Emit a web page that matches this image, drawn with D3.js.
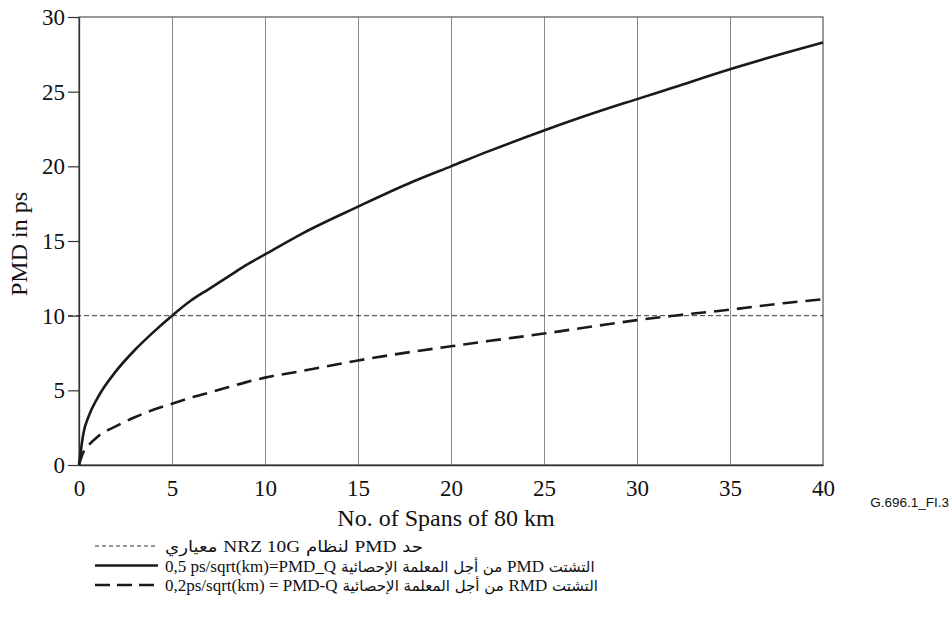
<!DOCTYPE html>
<html>
<head>
<meta charset="utf-8">
<script src="https://cdn.jsdelivr.net/npm/d3@7"></script>
<style>
  body { margin: 0; background: #fff; }
  text { font-family: "Liberation Serif", "Times New Roman", serif; fill: #111; }
  .lat { font-family: "Liberation Serif", "Times New Roman", serif; font-size: 17px; }
  .ar { font-family: "DejaVu Sans", sans-serif; font-size: 15px; }
  .ar.big { font-size: 16px; }
</style>
</head>
<body>
<svg id="chart" width="951" height="628"></svg>
<script>
// datos
const spans   = [0, 0.25, 0.5, 1, 2, 3, 4, 5, 6, 7, 8, 9, 10, 12, 15, 18, 20, 22, 25, 28, 30, 32, 35, 38, 40];
const pmdQ05  = [0, 2.2, 3.2, 4.5, 6.3, 7.7, 8.9, 10.0, 11.0, 11.8, 12.6, 13.4, 14.1, 15.5, 17.3, 19.0, 20.0, 21.0, 22.4, 23.7, 24.5, 25.3, 26.5, 27.6, 28.3];
const pmdQ02  = [0, 0.9, 1.3, 1.9, 2.6, 3.2, 3.7, 4.1, 4.5, 4.85, 5.2, 5.55, 5.85, 6.3, 7.0, 7.6, 7.95, 8.3, 8.8, 9.35, 9.7, 10.0, 10.4, 10.85, 11.1];
const limitPMD = 10;
const xTicks = [0, 5, 10, 15, 20, 25, 30, 35, 40];
const yTicks = [0, 5, 10, 15, 20, 25, 30];
// leyenda: parte latina (a la izquierda) y parte arabe (orden logico)
const legendLatin = ['', '0,5 ps/sqrt(km)=PMD_Q', '0,2ps/sqrt(km) = PMD-Q'];
const legendArabic = [
  [['ar big', 'حد '], ['lat', 'PMD'], ['ar big', ' لنظام '], ['lat', 'NRZ 10G'], ['ar big', ' معياري']],
  [['ar', 'التشتت '], ['lat', 'PMD'], ['ar', ' من أجل المعلمة الإحصائية']],
  [['ar', 'التشتت '], ['lat', 'RMD'], ['ar', ' من أجل المعلمة الإحصائية']]
];

const svg = d3.select('#chart');
const margin = { top: 17, right: 128, bottom: 163, left: 79 };
const width = 951, height = 628;
const plotW = width - margin.left - margin.right;
const plotH = height - margin.top - margin.bottom;

const x = d3.scaleLinear().domain([0, 40]).range([margin.left, margin.left + plotW]);
const y = d3.scaleLinear().domain([0, 30]).range([margin.top + plotH, margin.top]);

// lineas verticales de la cuadricula
svg.append('g')
  .attr('transform', `translate(0, ${y(0)})`)
  .call(d3.axisBottom(x).tickValues(xTicks.slice(1, -1)).tickSize(-plotH).tickFormat(''))
  .call(g => g.select('.domain').remove())
  .selectAll('line').attr('stroke', '#8a8a8a').attr('stroke-width', 1);

// marco
svg.append('rect')
  .attr('x', x(0)).attr('y', y(30))
  .attr('width', x(40) - x(0)).attr('height', y(0) - y(30))
  .attr('fill', 'none').attr('stroke', '#555').attr('stroke-width', 1.2);

// eje Y
svg.append('g')
  .attr('transform', `translate(${x(0)}, 0)`)
  .call(d3.axisLeft(y).tickValues(yTicks).tickSize(11).tickSizeOuter(0).tickPadding(3))
  .call(g => g.select('.domain').attr('stroke', '#333').attr('stroke-width', 1.3))
  .call(g => g.selectAll('line').attr('stroke', '#333').attr('stroke-width', 1.2))
  .call(g => g.selectAll('text').style('font-size', '23px').attr('fill', '#111'));

// eje X
svg.append('g')
  .attr('transform', `translate(0, ${y(0)})`)
  .call(d3.axisBottom(x).tickValues(xTicks).tickSize(0).tickSizeOuter(0).tickPadding(15))
  .call(g => g.select('.domain').attr('stroke', '#333').attr('stroke-width', 1.3))
  .call(g => g.selectAll('text').style('font-size', '23px').attr('fill', '#111'));

// limite PMD
svg.append('line')
  .attr('x1', x(0) - 11).attr('x2', x(40))
  .attr('y1', y(limitPMD)).attr('y2', y(limitPMD))
  .attr('stroke', '#222').attr('stroke-width', 0.9)
  .attr('stroke-dasharray', '5,3');

const line = d3.line().x(d => x(d[0])).y(d => y(d[1])).curve(d3.curveMonotoneX);

svg.append('path')
  .datum(spans.map((s, i) => [s, pmdQ05[i]]))
  .attr('d', line)
  .attr('fill', 'none').attr('stroke', '#1a1a1a').attr('stroke-width', 2.6);

svg.append('path')
  .datum(spans.map((s, i) => [s, pmdQ02[i]]))
  .attr('d', line)
  .attr('fill', 'none').attr('stroke', '#1a1a1a').attr('stroke-width', 2.6)
  .attr('stroke-dasharray', '15,8');

// titulos
svg.append('text')
  .attr('x', 446).attr('y', 526)
  .attr('text-anchor', 'middle').style('font-size', '24px')
  .text('No. of Spans of 80 km');

svg.append('text')
  .attr('transform', `translate(27, ${(y(0) + y(30)) / 2 + 3}) rotate(-90)`)
  .attr('text-anchor', 'middle').style('font-size', '24px')
  .text('PMD in ps');

svg.append('text')
  .attr('x', 949).attr('y', 507)
  .attr('text-anchor', 'end')
  .style('font-family', '"Liberation Sans", Arial, sans-serif')
  .style('font-size', '13.5px')
  .text('G.696.1_FI.3');

// leyenda
const legendStyles = [
  { width: 0.9, dash: '4,3' },
  { width: 2.6, dash: null },
  { width: 2.6, dash: '15,7' }
];
const legend = svg.append('g');
legendArabic.forEach((row, i) => {
  const ly = 546 + i * 19.5;
  legend.append('line')
    .attr('x1', 95).attr('x2', 158).attr('y1', ly).attr('y2', ly)
    .attr('stroke', '#1a1a1a').attr('stroke-width', legendStyles[i].width)
    .attr('stroke-dasharray', legendStyles[i].dash);

  let left = 165;
  if (legendLatin[i]) {
    const lt = legend.append('text')
      .attr('x', left).attr('y', ly + 6)
      .attr('class', 'lat')
      .text(legendLatin[i]);
    left += lt.node().getComputedTextLength() + 5;
  }
  const at = legend.append('text')
    .attr('x', left).attr('y', ly + 6)
    .attr('direction', 'rtl')
    .attr('text-anchor', 'end')
    .style('font-size', '16px');
  row.forEach(([cls, str]) => at.append('tspan').attr('class', cls).text(str));
  // la primera fila se estira hasta x=423 como en la figura
  if (i === 0) at.attr('textLength', 423 - left).attr('lengthAdjust', 'spacingAndGlyphs');
});
</script>
</body>
</html>
